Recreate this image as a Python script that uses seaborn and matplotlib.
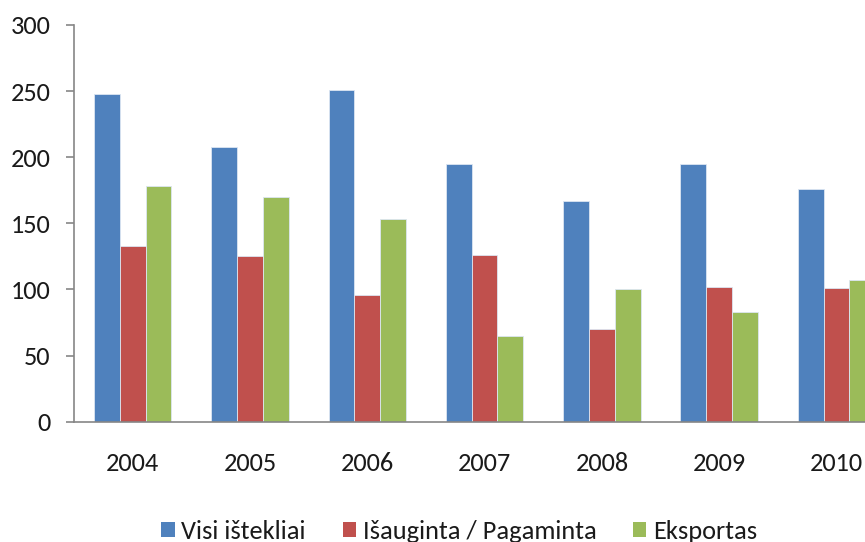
import pandas as pd
import matplotlib.pyplot as plt
import seaborn as sns
from matplotlib.patches import Patch


years = ['2004', '2005', '2006', '2007', '2008', '2009', '2010']
visi = [248, 208, 251, 195, 167, 195, 176]
isauginta = [133, 125, 96, 126, 70, 102, 101]
eksportas = [178, 170, 153, 65, 100, 83, 107]
series = ['Visi ištekliai', 'Išauginta / Pagaminta', 'Eksportas']
colors = ['#4F81BD', '#C0504D', '#9BBB59']

df = pd.DataFrame({'year': years, series[0]: visi, series[1]: isauginta, series[2]: eksportas})
long_df = df.melt(id_vars='year', var_name='series', value_name='value')

sns.set_style('white')
plt.rcParams['font.family'] = ['Carlito', 'DejaVu Sans']

fig = plt.figure(figsize=(8.65, 5.42), dpi=100)
ax = fig.add_axes([74 / 865, 0.222, 1 - 74 / 865, 0.732])

sns.barplot(data=long_df, x='year', y='value', hue='series', hue_order=series,
            palette=colors, saturation=1, width=0.66, gap=0, errorbar=None, ax=ax,
            edgecolor='#dce6f2', linewidth=0.6)

ax.set_yticks(range(0, 301, 50))
ax.set_xticks([i - 0.5 for i in range(8)], minor=True)
# chart is cut off on the right, through the 2010 group
ax.set_ylim(0, 300)
ax.set_xlim(-0.5, 6.243)
ax.set_xlabel('')
ax.set_ylabel('')

for side in ['top', 'right']:
    ax.spines[side].set_visible(False)
for side in ['left', 'bottom']:
    ax.spines[side].set_color('#868686')
    ax.spines[side].set_linewidth(1.2)

ax.tick_params(axis='x', which='major', length=0, pad=22, labelsize=19, labelcolor='#1a1a1a')
ax.tick_params(axis='x', which='minor', length=6, color='#868686', width=1.2, direction='out')
ax.tick_params(axis='y', length=6, color='#868686', width=1.2, direction='out', left=True,
               pad=11, labelsize=19, labelcolor='#1a1a1a')

ax.get_legend().remove()
handles = [Patch(facecolor=c, edgecolor='none') for c in colors]
fig.legend(handles, series, loc='center', bbox_to_anchor=(0.531, 0.020), ncol=3,
           frameon=False, fontsize=19, handlelength=0.5, handleheight=0.5,
           handletextpad=0.25, columnspacing=1.4, labelcolor='#1a1a1a')

fig.savefig('out.png', dpi=100)
